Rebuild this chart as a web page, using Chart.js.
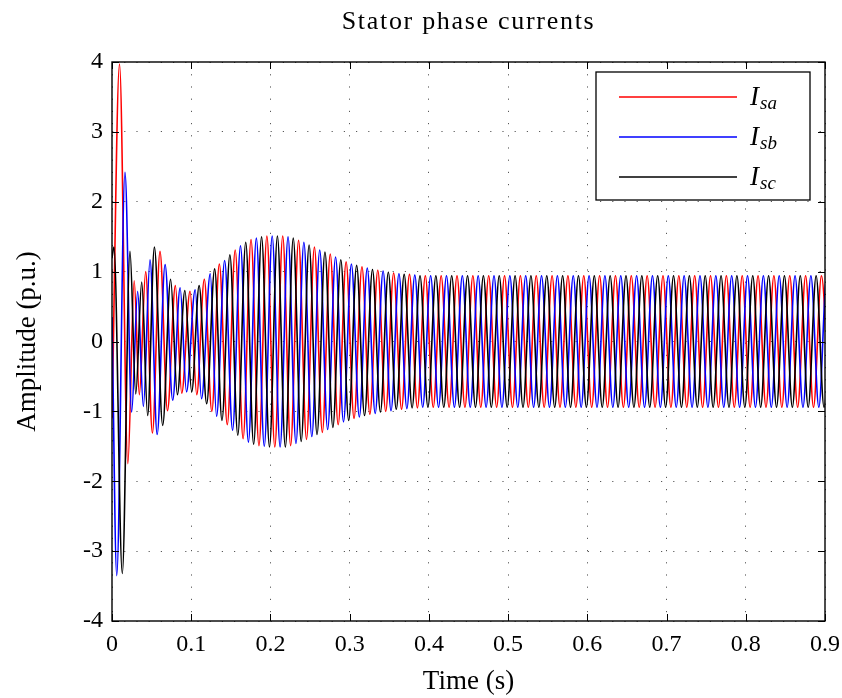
<!DOCTYPE html>
<html>
<head>
<meta charset="utf-8">
<title>Stator phase currents</title>
<script src="https://cdn.jsdelivr.net/npm/chart.js@4.4.0/dist/chart.umd.min.js"></script>
<style>
  html, body { margin: 0; padding: 0; background: #fff; }
  #chart { display: block; }
</style>
</head>
<body>
<canvas id="chart" width="842" height="698"></canvas>
<script>
// values: extrema (peaks / troughs) of each phase current, p.u.
const TITLE = 'Stator phase currents';
const X_LABEL = 'Time (s)';
const Y_LABEL = 'Amplitude (p.u.)';

const xTicks = [0, 0.1, 0.2, 0.3, 0.4, 0.5, 0.6, 0.7, 0.8, 0.9];
const xTickLabels = ['0', '0.1', '0.2', '0.3', '0.4', '0.5', '0.6', '0.7', '0.8', '0.9'];
const yTicks = [-4, -3, -2, -1, 0, 1, 2, 3, 4];
const yTickLabels = ['-4', '-3', '-2', '-1', '0', '1', '2', '3', '4'];

// half period of the 50 Hz supply, spacing of the extrema after the start-up
const HALF = 0.01;

// start-up transient: explicit times and values
const isaT = [0, 0.0095, 0.020, 0.028, 0.0345, 0.0425, 0.051, 0.0606, 0.070, 0.080, 0.088, 0.0985, 0.107, 0.1165, 0.126];
const isaV = [-1.1, 3.97, -1.75, 0.87, -0.76, 1.0, -1.31, 1.29, -0.99, 0.80, -0.74, 0.72, -0.76, 0.89, -1.0];
const isbT = [0, 0.006, 0.0164, 0.0248, 0.0324, 0.0396, 0.048, 0.057, 0.067, 0.0766, 0.086, 0.094, 0.105, 0.113, 0.124, 0.132];
const isbV = [0.35, -3.35, 2.42, -1.01, 0.72, -0.93, 1.17, -1.33, 1.10, -0.84, 0.77, -0.72, 0.74, -0.82, 0.97, -1.07];
const iscT = [0, 0.0025, 0.013, 0.0227, 0.030, 0.0375, 0.045, 0.0535, 0.064, 0.074, 0.0825, 0.092, 0.1006, 0.110, 0.1195, 0.1296];
const iscV = [1.2, 1.35, -3.32, 1.29, -0.75, 0.85, -1.06, 1.35, -1.2, 0.89, -0.76, 0.73, -0.72, 0.80, -0.89, 1.04];

// after the start-up: one extremum every HALF seconds from these start times
const isaStart = 0.1355;
const isbStart = 0.1422;
const iscStart = 0.1388;

const isaSteady = [
  1.11, -1.19, 1.31, -1.39, 1.46, -1.49, 1.51, -1.51, 1.51, -1.49,
  1.45, -1.40, 1.35, -1.30, 1.25, -1.19, 1.14, -1.10, 1.07, -1.04,
  1.02, -1.00, 0.98, -0.97, 0.96, -0.95, 0.94,
  -0.94, 0.94, -0.94, 0.94, -0.94, 0.94, -0.94, 0.94, -0.94, 0.94,
  -0.94, 0.94, -0.94, 0.94, -0.94, 0.94, -0.94, 0.94, -0.94, 0.94,
  -0.94, 0.94, -0.94, 0.94, -0.94, 0.94, -0.94, 0.94, -0.94, 0.94,
  -0.94, 0.94, -0.94, 0.94, -0.94, 0.94, -0.94, 0.94, -0.94, 0.94,
  -0.94, 0.94, -0.94, 0.94, -0.94, 0.94, -0.94, 0.94, -0.94, 0.94,
  -0.94,
];
const isbSteady = [
  1.16, -1.27, 1.37, -1.44, 1.48, -1.50, 1.51, -1.51, 1.50, -1.46,
  1.42, -1.36, 1.31, -1.26, 1.21, -1.15, 1.11, -1.08, 1.05, -1.03,
  1.01, -0.99, 0.97, -0.96, 0.95, -0.94,
  0.94, -0.94, 0.94, -0.94, 0.94, -0.94, 0.94, -0.94, 0.94, -0.94,
  0.94, -0.94, 0.94, -0.94, 0.94, -0.94, 0.94, -0.94, 0.94, -0.94,
  0.94, -0.94, 0.94, -0.94, 0.94, -0.94, 0.94, -0.94, 0.94, -0.94,
  0.94, -0.94, 0.94, -0.94, 0.94, -0.94, 0.94, -0.94, 0.94, -0.94,
  0.94, -0.94, 0.94, -0.94, 0.94, -0.94, 0.94, -0.94, 0.94, -0.94,
  0.94, -0.94,
];
const iscSteady = [
  -1.13, 1.24, -1.34, 1.42, -1.47, 1.50, -1.51, 1.51, -1.51, 1.48,
  -1.43, 1.38, -1.33, 1.28, -1.23, 1.17, -1.13, 1.09, -1.06, 1.03,
  -1.01, 0.99, -0.97, 0.96, -0.95, 0.94,
  -0.94, 0.94, -0.94, 0.94, -0.94, 0.94, -0.94, 0.94, -0.94, 0.94,
  -0.94, 0.94, -0.94, 0.94, -0.94, 0.94, -0.94, 0.94, -0.94, 0.94,
  -0.94, 0.94, -0.94, 0.94, -0.94, 0.94, -0.94, 0.94, -0.94, 0.94,
  -0.94, 0.94, -0.94, 0.94, -0.94, 0.94, -0.94, 0.94, -0.94, 0.94,
  -0.94, 0.94, -0.94, 0.94, -0.94, 0.94, -0.94, 0.94, -0.94, 0.94,
  -0.94, 0.94,
];

const FONT = '"Liberation Serif", "Times New Roman", serif';

function phasePoints(times, vals, start, steady) {
  const pts = times.map((t, i) => ({ x: t, y: vals[i] }));
  steady.forEach((v, i) => pts.push({ x: start + i * HALF, y: v }));
  return pts;
}

// box, inward ticks on all four sides, title
const framePlugin = {
  id: 'frame',
  afterDraw(chart) {
    const { ctx, chartArea: a, scales: { x, y } } = chart;
    const tl = 7;
    ctx.save();
    ctx.strokeStyle = '#000';
    ctx.lineWidth = 1.4;
    ctx.strokeRect(a.left, a.top, a.right - a.left, a.bottom - a.top);
    ctx.lineWidth = 1;
    ctx.beginPath();
    xTicks.forEach(v => {
      const px = Math.round(x.getPixelForValue(v)) + 0.5;
      ctx.moveTo(px, a.bottom); ctx.lineTo(px, a.bottom - tl);
      ctx.moveTo(px, a.top); ctx.lineTo(px, a.top + tl);
    });
    yTicks.forEach(v => {
      const py = Math.round(y.getPixelForValue(v)) + 0.5;
      ctx.moveTo(a.left, py); ctx.lineTo(a.left + tl, py);
      ctx.moveTo(a.right, py); ctx.lineTo(a.right - tl, py);
    });
    ctx.stroke();

    ctx.fillStyle = '#000';
    ctx.font = '26px ' + FONT;
    ctx.letterSpacing = '1.7px';
    ctx.textAlign = 'center';
    ctx.textBaseline = 'alphabetic';
    ctx.fillText(TITLE, (a.left + a.right) / 2, 29);
    ctx.restore();
  }
};

// legend with subscripted labels
const legendPlugin = {
  id: 'legendBox',
  afterDraw(chart) {
    const { ctx, chartArea: a } = chart;
    const w = 214, h = 128;
    const x0 = a.right - 229, y0 = a.top + 10;
    ctx.save();
    ctx.fillStyle = '#fff';
    ctx.fillRect(x0, y0, w, h);
    ctx.strokeStyle = '#000';
    ctx.lineWidth = 1.3;
    ctx.strokeRect(x0, y0, w, h);
    [0, 1, 2].forEach((di, row) => {
      const ds = chart.data.datasets[di];
      const ry = y0 + 25 + row * 40;
      ctx.strokeStyle = ds.borderColor;
      ctx.lineWidth = 1.5;
      ctx.beginPath();
      ctx.moveTo(x0 + 23, ry);
      ctx.lineTo(x0 + 141, ry);
      ctx.stroke();
      const [main, sub] = ds.label.split('_');
      ctx.fillStyle = '#000';
      ctx.textAlign = 'left';
      ctx.textBaseline = 'alphabetic';
      ctx.font = 'italic 27px ' + FONT;
      ctx.fillText(main, x0 + 154, ry + 8);
      const mw = ctx.measureText(main).width;
      ctx.font = 'italic 19px ' + FONT;
      ctx.fillText(sub, x0 + 154 + mw + 1, ry + 12);
    });
    ctx.restore();
  }
};

const gridColor = 'rgba(0,0,0,0.65)';

new Chart(document.getElementById('chart'), {
  type: 'line',
  data: {
    datasets: [
      { label: 'I_sa', data: phasePoints(isaT, isaV, isaStart, isaSteady), borderColor: '#ff0000', order: 3 },
      { label: 'I_sb', data: phasePoints(isbT, isbV, isbStart, isbSteady), borderColor: '#0000ff', order: 2 },
      { label: 'I_sc', data: phasePoints(iscT, iscV, iscStart, iscSteady), borderColor: '#000000', order: 1 },
    ],
  },
  options: {
    responsive: false,
    animation: false,
    layout: { padding: { top: 62, right: 17, left: 0, bottom: 0 } },
    elements: {
      point: { radius: 0 },
      line: { borderWidth: 1.6, cubicInterpolationMode: 'monotone', fill: false },
    },
    plugins: {
      legend: { display: false },
      title: { display: false },
      tooltip: { enabled: false },
    },
    scales: {
      x: {
        type: 'linear',
        min: 0,
        max: 0.9,
        afterBuildTicks(scale) { scale.ticks = xTicks.map(v => ({ value: v })); },
        afterFit(scale) {
          scale.height = 77;
          scale.paddingLeft = 0;
          scale.paddingRight = 0;
        },
        grid: { color: gridColor, lineWidth: 1, drawTicks: false, borderDash: [1.2, 11] },
        border: { display: false, dash: [1.2, 11] },
        ticks: {
          color: '#000',
          font: { family: FONT, size: 24 },
          padding: 9,
          maxRotation: 0,
          autoSkip: false,
          callback(v, i) { return xTickLabels[i]; },
        },
        title: {
          display: true,
          text: X_LABEL,
          color: '#000',
          font: { family: FONT, size: 27 },
          padding: { top: 0, bottom: 0 },
        },
      },
      y: {
        type: 'linear',
        min: -4,
        max: 4,
        afterBuildTicks(scale) { scale.ticks = yTicks.map(v => ({ value: v })); },
        afterFit(scale) {
          scale.width = 112;
          scale.paddingTop = 0;
          scale.paddingBottom = 0;
        },
        grid: { color: gridColor, lineWidth: 1, drawTicks: false, borderDash: [1.2, 11] },
        border: { display: false, dash: [1.2, 11] },
        ticks: {
          color: '#000',
          font: { family: FONT, size: 24 },
          padding: 9,
          autoSkip: false,
          callback(v, i) { return yTickLabels[i]; },
        },
        title: {
          display: true,
          text: Y_LABEL,
          color: '#000',
          font: { family: FONT, size: 27 },
          padding: { top: 12, bottom: 0 },
        },
      },
    },
  },
  plugins: [framePlugin, legendPlugin],
});
</script>
</body>
</html>
